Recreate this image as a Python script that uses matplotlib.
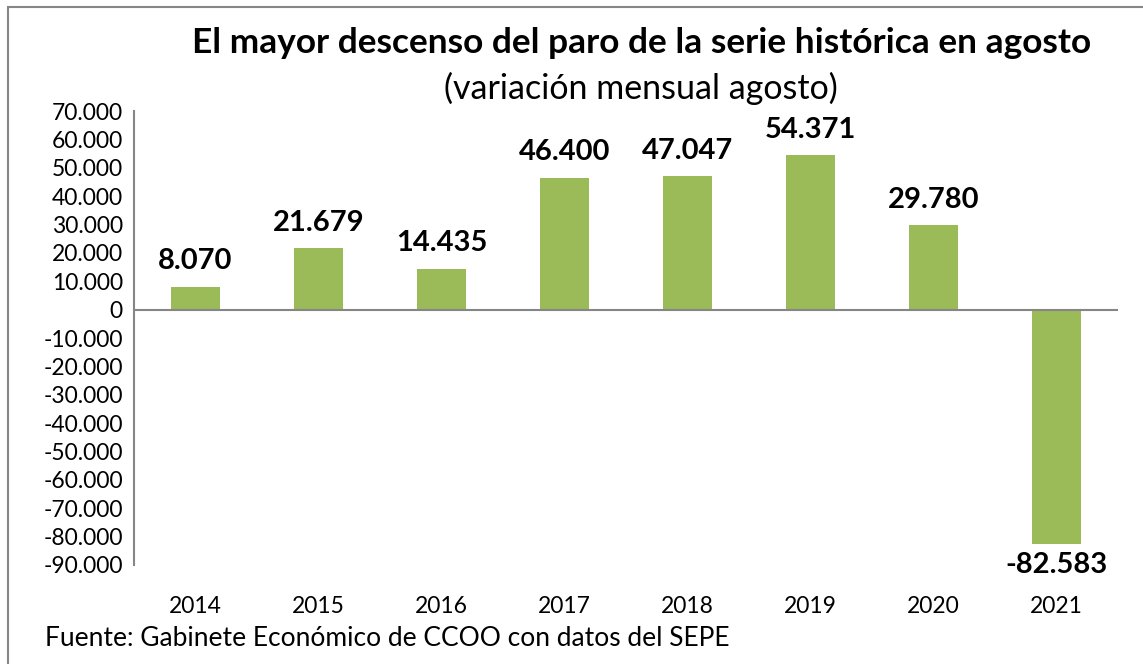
import matplotlib.pyplot as plt
from matplotlib.patches import Rectangle
from matplotlib.ticker import FuncFormatter

years = ['2014', '2015', '2016', '2017', '2018', '2019', '2020', '2021']
paro = [8070, 21679, 14435, 46400, 47047, 54371, 29780, -82583]
yticks = list(range(-90000, 70001, 10000))

FONT = 'Lato'
GREEN = '#9BBB59'
GRAY = '#868686'


def miles(v, pos=None):
    # formato espanol: 70.000
    if v == 0:
        return '0'
    return f'{int(v):,}'.replace(',', '.')


fig = plt.figure(figsize=(11.43, 6.64), dpi=100)
ax = fig.add_axes([0.1172, 0.1491, 0.8609, 0.6837])

x = range(len(years))
bars = ax.bar(x, paro, width=0.4, color=GREEN)

ax.set_ylim(-90000, 70000)
ax.set_xlim(-0.5, len(years) - 0.5)
ax.set_yticks(yticks)
ax.yaxis.set_major_formatter(FuncFormatter(miles))
ax.set_xticks(list(x))
ax.set_xticklabels(years)
ax.tick_params(axis='both', length=0, labelsize=16.5)
ax.tick_params(axis='y', pad=8)
ax.tick_params(axis='x', pad=22)
for lab in ax.get_xticklabels() + ax.get_yticklabels():
    lab.set_fontfamily(FONT)

for s in ['top', 'right', 'bottom']:
    ax.spines[s].set_visible(False)
ax.spines['left'].set_color(GRAY)
ax.spines['left'].set_linewidth(1.5)
ax.axhline(0, color=GRAY, linewidth=1.5, zorder=3)

# etiquetas de datos
for xi, v in zip(x, paro):
    if v >= 0:
        ax.annotate(miles(v), (xi, v), xytext=(0, 9), textcoords='offset points',
                    ha='center', va='bottom', fontsize=21, fontweight='bold',
                    family=FONT)
    else:
        ax.annotate(miles(v), (xi, v), xytext=(0, -6), textcoords='offset points',
                    ha='center', va='top', fontsize=21, fontweight='bold',
                    family=FONT)

fig.text(0.561, 0.935, 'El mayor descenso del paro de la serie histórica en agosto',
         ha='center', va='center', fontsize=25.4, fontweight='bold', family=FONT)
fig.text(0.561, 0.867, '(variación mensual agosto)', ha='center', va='center',
         fontsize=24.5, family=FONT)
fig.text(0.039, 0.039, 'Fuente: Gabinete Económico de CCOO con datos del SEPE',
         ha='left', va='center', fontsize=19, family=FONT)

# marco gris del grafico
fig.patches.append(Rectangle((8 / 1143, -0.05), 1.2, 1.05 - 7 / 664,
                             transform=fig.transFigure, fill=False,
                             edgecolor=GRAY, linewidth=1.5))

fig.savefig('out.png', dpi=100)
